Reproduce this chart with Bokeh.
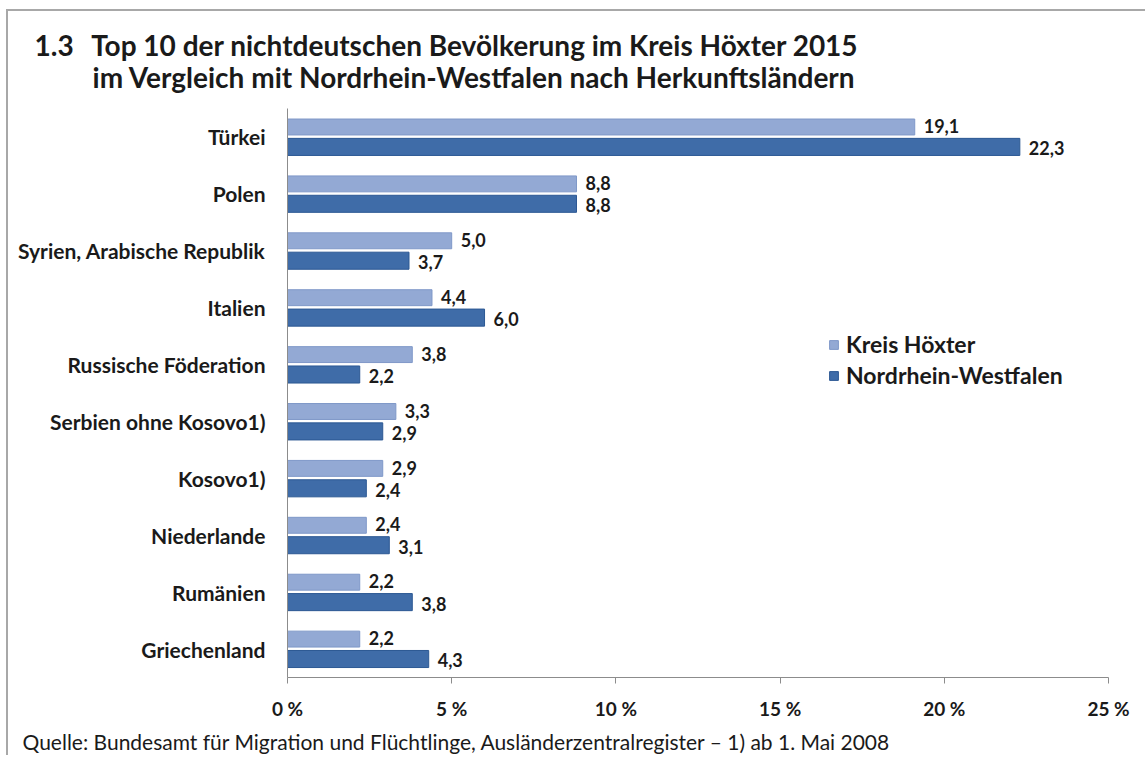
from bokeh.plotting import figure
from bokeh.models import FactorRange, Legend, LegendItem, ColumnDataSource, FixedTicker, Title
from bokeh.transform import dodge
from bokeh.core.properties import value
from bokeh.embed import file_html
from bokeh.resources import INLINE

countries = ["Türkei", "Polen", "Syrien, Arabische Republik", "Italien",
             "Russische Föderation", "Serbien ohne Kosovo1)", "Kosovo1)",
             "Niederlande", "Rumänien", "Griechenland"]
hoexter = [19.1, 8.8, 5.0, 4.4, 3.8, 3.3, 2.9, 2.4, 2.2, 2.2]
nrw = [22.3, 8.8, 3.7, 6.0, 2.2, 2.9, 2.4, 3.1, 3.8, 4.3]
series_names = ["Kreis Höxter", "Nordrhein-Westfalen"]
x_ticks = [0, 5, 10, 15, 20, 25]
x_tick_labels = ["0 %", "5 %", "10 %", "15 %", "20 %", "25 %"]
title_num = "1.3"
title_line1 = "Top 10 der nichtdeutschen Bevölkerung im Kreis Höxter 2015"
title_line2 = "im Vergleich mit Nordrhein-Westfalen nach Herkunftsländern"
footer = "Quelle: Bundesamt für Migration und Flüchtlinge, Ausländerzentralregister – 1) ab 1. Mai 2008"

FONT = "Lato"
TXT = "#1a1a1a"
LIGHT, LIGHT_LINE = "#93a9d4", "#7f98c8"
DARK, DARK_LINE = "#3f6ca8", "#2c5893"

W, H = 1139, 746
ML, MR, MT, MB = 279, 39, 97, 79

def fmt(v):
    return f"{v:.1f}".replace(".", ",")

src = ColumnDataSource(dict(country=countries, hoexter=hoexter, nrw=nrw,
                            hl=[fmt(v) for v in hoexter], nl=[fmt(v) for v in nrw]))

p = figure(width=W, height=H, x_range=(0, 25), title=None,
           y_range=FactorRange(factors=list(reversed(countries))),
           output_backend="svg", toolbar_location=None,
           min_border_left=ML, min_border_right=MR, min_border_top=MT, min_border_bottom=MB)
p.styles = {"border-top": "2px solid #a8a8a8", "border-left": "2px solid #a8a8a8",
            "margin-left": "6px", "margin-top": "9px"}

r1 = p.hbar(y=dodge("country", 0.175, range=p.y_range), left=0, right="hoexter", height=0.28,
            fill_color=LIGHT, line_color=LIGHT_LINE, line_width=1, source=src)
r2 = p.hbar(y=dodge("country", -0.175, range=p.y_range), left=0, right="nrw", height=0.3,
            fill_color=DARK, line_color=DARK_LINE, line_width=1, source=src)

p.text(x="hoexter", y=dodge("country", 0.19, range=p.y_range), text="hl", source=src,
       x_offset=9, text_baseline="middle", text_align="left",
       text_font=value(FONT), text_font_style="bold", text_font_size="18px", text_color=TXT)
p.text(x="nrw", y=dodge("country", -0.2, range=p.y_range), text="nl", source=src,
       x_offset=9, text_baseline="middle", text_align="left",
       text_font=value(FONT), text_font_style="bold", text_font_size="18px", text_color=TXT)

legend = Legend(items=[LegendItem(label=series_names[0], renderers=[r1]),
                       LegendItem(label=series_names[1], renderers=[r2])],
                location=(541, 288), orientation="vertical",
                glyph_width=11, glyph_height=11, label_standoff=7, spacing=3,
                padding=0, margin=0, border_line_color=None, background_fill_alpha=0,
                label_text_font=FONT, label_text_font_size="23px", label_text_font_style="bold",
                label_text_color=TXT)
p.add_layout(legend)

p.xgrid.grid_line_color = None
p.ygrid.grid_line_color = None
p.outline_line_color = None

p.xaxis.ticker = FixedTicker(ticks=x_ticks)
p.xaxis.major_label_overrides = {t: l for t, l in zip(x_ticks, x_tick_labels)}
p.xaxis.axis_line_color = "#8c8c8c"
p.xaxis.major_tick_line_color = "#8c8c8c"
p.xaxis.major_tick_in = 0
p.xaxis.major_tick_out = 6
p.xaxis.minor_tick_line_color = None
p.xaxis.major_label_standoff = 13
p.xaxis.major_label_text_font = FONT
p.xaxis.major_label_text_font_size = "19px"
p.xaxis.major_label_text_font_style = "bold"
p.xaxis.major_label_text_color = TXT

p.yaxis.axis_line_color = "#8c8c8c"
p.yaxis.major_tick_line_color = None
p.yaxis.major_tick_in = 0
p.yaxis.major_tick_out = 0
p.yaxis.major_label_standoff = 22
p.yaxis.major_label_text_font = FONT
p.yaxis.major_label_text_font_size = "21px"
p.yaxis.major_label_text_font_style = "bold"
p.yaxis.major_label_text_color = TXT

FRAME_LEFT = 8 + ML  # page x of the plot frame's left edge

gap = "\u2002\u2009"
indent = "\u2007\u2008\u2007\u200a" + gap  # invisible spaces as wide as "1.3" + gap
title_text = title_num + gap + title_line1 + "\n" + indent + title_line2
t = Title(text=title_text, align="left", offset=34 - FRAME_LEFT, standoff=28,
          text_font=FONT, text_font_size="28px", text_font_style="bold", text_color=TXT,
          text_line_height=0.97)
p.add_layout(t, "above")

tf = Title(text=footer, align="left", offset=22 - FRAME_LEFT, standoff=8,
           text_font=FONT, text_font_size="21px", text_font_style="normal", text_color=TXT)
p.add_layout(tf, "below")

open("out.html", "w").write(file_html(p, INLINE))
